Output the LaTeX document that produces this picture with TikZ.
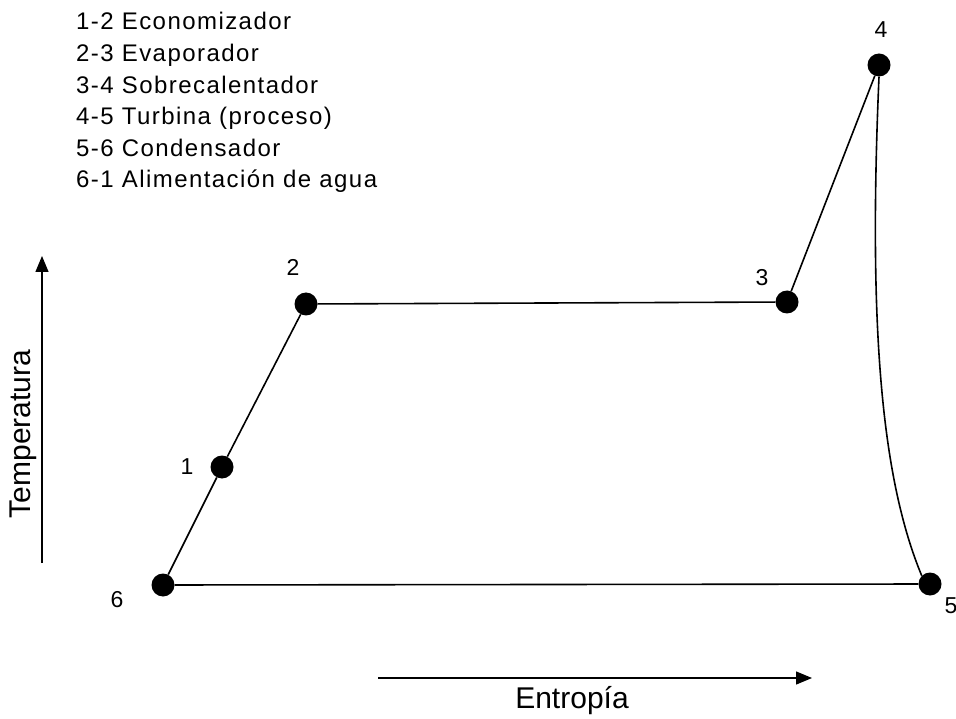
\documentclass[tikz,border=0pt]{standalone}
\usepackage{fontspec}
\setmainfont{Liberation Sans}
\usetikzlibrary{arrows.meta,positioning,calc}

\begin{document}
\begin{tikzpicture}[x=1pt, y=-1pt,
      pt/.style={circle, fill=black, inner sep=0pt, minimum size=23pt},
      num/.style={inner sep=0pt, font=\fontsize{23}{23}\selectfont},
      leg/.style={anchor=base west, inner sep=0pt, font=\addfontfeature{LetterSpace=6}\fontsize{24}{24}\selectfont},
      axis/.style={inner sep=0pt, font=\fontsize{30}{30}\selectfont},
      ln/.style={line width=1.6pt},
      arr/.style={line width=1.4pt, -{Triangle[length=16pt, width=13pt]}}
    ]
    \useasboundingbox (0,0) rectangle (956,719);

    % estados del ciclo
    \node[pt] (p6) at (163,585) {};
    \node[pt] (p1) at (222,467) {};
    \node[pt] (p2) at (306,304) {};
    \node[pt] (p3) at (787,302) {};
    \node[pt] (p4) at (879,65) {};
    \node[pt] (p5) at (930,584) {};

    \node[num] (l6) at (117,600) {6};
    \node[num] (l1) at (187,467) {1};
    \node[num] (l2) at (293,267) {2};
    \node[num] (l3) at (762,278) {3};
    \node[num] (l4) at (881,30) {4};
    \node[num] (l5) at (951,606) {5};

    \draw[ln] (p6) -- (p1);
    \draw[ln] (p1) -- (p2);
    \draw[ln] (p2) -- (p3);
    \draw[ln] (p3) -- (p4);
    \draw[ln] (p4.south) .. controls (868,330) and (882,480) .. (p5.north west);
    \draw[ln] (p5) -- (p6);

    % leyenda
    \foreach \txt [count=\i from 0] in {1-2 Economizador, 2-3 Evaporador, 3-4 Sobrecalentador,
        4-5 Turbina (proceso), 5-6 Condensador, 6-1 Alimentación de agua}
      \node[leg] (leg\i) at (76,{30+31.6*\i}) {\txt};

    % ejes
    \coordinate (t0) at (42,563);
    \coordinate (t1) at (42,256);
    \draw[arr] (t0) -- (t1);
    \node[axis, rotate=90] (temp) at (23,434) {Temperatura};

    \coordinate (s0) at (378,678);
    \coordinate (s1) at (812,678);
    \draw[arr] (s0) -- (s1);
    \node[axis] (ent) at (572,701) {Entropía};
  \end{tikzpicture}
\end{document}
